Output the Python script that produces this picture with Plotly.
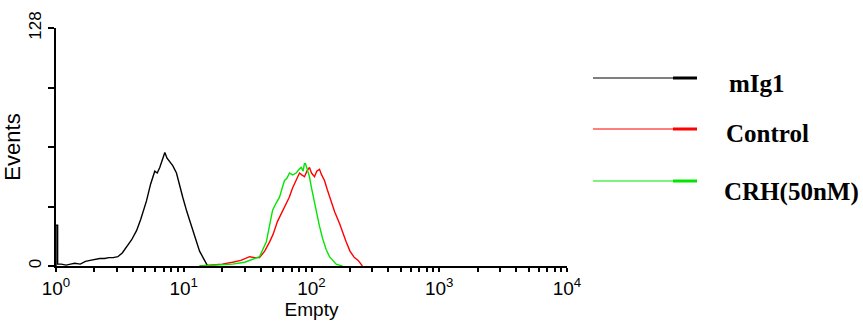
import plotly.graph_objects as go

# ---- data ----
x_mig1 = [1.0, 1.0, 1.03, 1.03, 1.1, 1.2, 1.3, 1.4, 1.55, 1.7, 1.85, 2.0, 2.2, 2.4, 2.6, 2.8,
          3.05, 3.3, 3.57, 3.9, 4.27, 4.6, 5.11, 5.5, 5.93, 6.2, 6.49, 6.8, 7.11, 7.4,
          7.77, 8.2, 8.77, 9.3, 9.82, 10.6, 11.5, 12.4, 13.3, 14.3, 15.4]
y_mig1 = [0, 22, 22, 1, 1, 0.5, 1, 1.5, 1, 2.5, 3, 3.5, 4, 4, 4.5, 4.5,
          5, 7, 10, 14, 19, 25, 35, 44, 51, 50, 53, 57, 61, 58,
          56, 54, 50, 44, 37, 29, 21, 14, 8, 4, 0]

x_control = [13.3, 20, 24.1, 28, 32.8, 36, 39.2, 43, 47, 50, 54.2, 58, 63.4, 67, 71.1,
             76, 80.5, 84, 88.2, 92, 96.4, 100, 105.5, 110, 115.5, 120, 126.4, 133,
             142.6, 152, 165.5, 175, 186.7, 200, 216.7, 232, 250.2]
y_control = [0, 1, 2, 3, 5, 4.5, 4.5, 8, 13, 17, 24, 28, 33, 37, 42,
             46, 50, 49, 48, 51, 53, 50, 48, 51, 52, 49, 46, 41,
             35, 29, 23, 18, 13, 8, 4.5, 3, 0]

x_crh = [13.3, 18, 24.1, 30, 35, 39.2, 44.3, 47, 49.6, 53, 56.2, 59, 61.5, 64, 67.3,
         71, 75.9, 80, 83.1, 86, 88, 89.8, 93, 96.4, 100, 104, 108.8, 115, 121.9,
         130, 138.3, 147, 156, 165, 174.6]
y_crh = [0, 0.5, 1, 2, 3.5, 5, 13, 22, 30, 34, 37, 42, 46, 47, 50,
         49, 50, 52, 53, 51, 55, 55, 52, 48, 42, 36, 30, 22, 15,
         9, 5, 3, 1, 0.5, 0]

series_names = ["mIg1", "Control", "CRH(50nM)"]
series_colors = ["#000000", "#ff0000", "#00e600"]

decades = [1, 10, 100, 1000, 10000]
decade_labels = ["10<sup>0</sup>", "10<sup>1</sup>", "10<sup>2</sup>", "10<sup>3</sup>", "10<sup>4</sup>"]
y_tickvals = [0, 32, 64, 96, 128]
y_ticktext = ["0", " ", " ", " ", "128"]

# all log ticks (1..9 per decade); only decades get a label
x_tickvals, x_ticktext = [], []
for i, d in enumerate(decades):
    x_tickvals.append(d)
    x_ticktext.append(decade_labels[i])
    if d < decades[-1]:
        for m in range(2, 10):
            x_tickvals.append(d * m)
            x_ticktext.append(" ")

# ---- figure ----
W, H = 863, 328
L, R, T, B = 56, 296, 28, 62
pw, ph = W - L - R, H - T - B

fig = go.Figure()
for xs, ys, name, col in [(x_mig1, y_mig1, series_names[0], series_colors[0]),
                          (x_control, y_control, series_names[1], series_colors[1]),
                          (x_crh, y_crh, series_names[2], series_colors[2])]:
    fig.add_trace(go.Scatter(x=xs, y=ys, mode="lines", name=name,
                             line=dict(color=col, width=1.4), showlegend=False))

axis_font = dict(family="Liberation Sans, Arial, sans-serif", size=19, color="#000")

fig.update_xaxes(type="log", range=[0, 4], tickvals=x_tickvals, ticktext=x_ticktext,
                 tickangle=0, automargin=False,
                 ticks="outside", ticklen=4, tickcolor="#000", tickwidth=1.5,
                 showline=True, linecolor="#000", linewidth=1.5, showgrid=False, zeroline=False,
                 tickfont=axis_font,
                 title=dict(text="Empty", font=axis_font, standoff=4))
fig.update_yaxes(range=[0, 128], tickvals=y_tickvals, ticktext=y_ticktext, tickangle=-90,
                 automargin=False,
                 ticks="outside", ticklen=6, tickcolor="#000", tickwidth=1.5,
                 showline=True, linecolor="#000", linewidth=1.5, showgrid=False, zeroline=False,
                 tickfont=dict(family="Liberation Sans, Arial, sans-serif", size=17, color="#000"),
                 title=dict(text="Events", font=dict(family="Liberation Sans, Arial, sans-serif",
                                                    size=22, color="#000"), standoff=1))

def px_x(p):
    return (p - L) / pw

def px_y(p):
    return (H - B - p) / ph

legend_line_y = [78, 129, 181]
legend_text_y = [83, 133, 192]
legend_text_x = [727, 724, 722]
for i, name in enumerate(series_names):
    col = series_colors[i]
    yl = px_y(legend_line_y[i])
    fig.add_shape(type="line", xref="paper", yref="paper", x0=px_x(593), x1=px_x(673),
                  y0=yl, y1=yl, line=dict(color=col, width=1.2))
    fig.add_shape(type="line", xref="paper", yref="paper", x0=px_x(673), x1=px_x(697),
                  y0=yl, y1=yl, line=dict(color=col, width=3))
    fig.add_annotation(text="<b>%s</b>" % name, xref="paper", yref="paper",
                       x=px_x(legend_text_x[i]), y=px_y(legend_text_y[i]),
                       xanchor="left", yanchor="middle", showarrow=False,
                       font=dict(family="Liberation Serif, Times New Roman, serif", size=25, color="#000"))

fig.update_layout(width=W, height=H, margin=dict(l=L, r=R, t=T, b=B, pad=0),
                  plot_bgcolor="#fff", paper_bgcolor="#fff")

fig.write_html("out.html")
